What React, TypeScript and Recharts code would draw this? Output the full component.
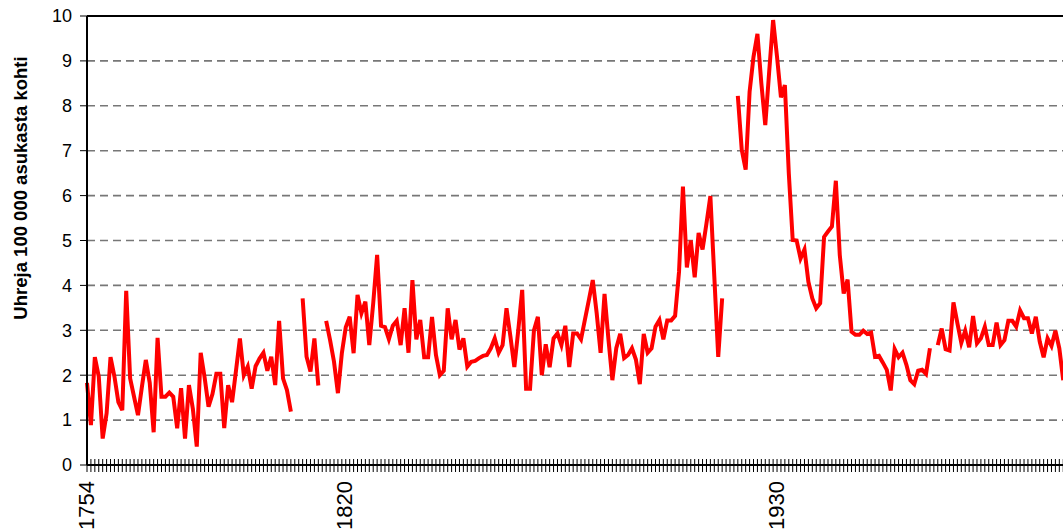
import React from "react";
import { LineChart, Line, XAxis, YAxis, CartesianGrid, ReferenceLine } from "recharts";

const FONT = '"Liberation Sans", Arial, sans-serif';

// Henkirikokset 100 000 asukasta kohti, vuosittain (luettu kuvasta)
const rate1754to1806 = [
  1.83, 0.89, 2.4, 1.97, 0.59, 1.15, 2.4, 1.97, 1.4, 1.22,
  3.88, 1.93, 1.52, 1.11, 1.74, 2.34, 1.83, 0.73, 2.83, 1.52,
  1.52, 1.61, 1.52, 0.82, 1.71, 0.59, 1.78, 1.25, 0.41, 2.5,
  1.95, 1.3, 1.58, 2.03, 2.03, 0.82, 1.78, 1.4, 2.1, 2.82,
  2.0, 2.19, 1.7, 2.2, 2.37, 2.5, 2.1, 2.41, 1.78, 3.21,
  1.93, 1.67, 1.19,
];
const rate1809to1813 = [3.71, 2.41, 2.08, 2.82, 1.77];
const rate1815to1916 = [
  3.21, 2.78, 2.3, 1.6, 2.49, 3.07, 3.3, 2.49, 3.79, 3.38,
  3.64, 2.67, 3.6, 4.68, 3.1, 3.07, 2.8, 3.1, 3.21, 2.67,
  3.49, 2.5, 4.12, 2.8, 3.23, 2.4, 2.4, 3.3, 2.45, 2.0,
  2.1, 3.49, 2.8, 3.23, 2.57, 2.82, 2.19, 2.3, 2.32, 2.38,
  2.43, 2.45, 2.6, 2.82, 2.5, 2.67, 3.49, 2.86, 2.18, 3.0,
  3.9, 1.7, 1.7, 3.0, 3.3, 2.0, 2.69, 2.18, 2.82, 2.93,
  2.67, 3.1, 2.18, 2.93, 2.93, 2.8, 3.24, 3.67, 4.12, 3.38,
  2.5, 3.81, 2.8, 1.89, 2.6, 2.92, 2.38, 2.45, 2.6, 2.35,
  1.8, 2.92, 2.5, 2.6, 3.08, 3.23, 2.8, 3.22, 3.22, 3.32,
  4.3, 6.2, 4.4, 5.0, 4.18, 5.17, 4.8, 5.38, 5.99, 4.2,
  2.41, 3.71,
];
const rate1920to1969 = [
  8.22, 7.02, 6.58, 8.31, 9.09, 9.6, 8.5, 7.57, 8.76, 9.91,
  9.09, 8.19, 8.46, 6.5, 5.01, 5.0, 4.6, 4.8, 4.08, 3.71,
  3.49, 3.6, 5.08, 5.2, 5.31, 6.33, 4.68, 3.82, 4.13, 2.97,
  2.9, 2.9, 2.99, 2.92, 2.95, 2.41, 2.43, 2.28, 2.12, 1.66,
  2.58, 2.4, 2.5, 2.23, 1.89, 1.8, 2.1, 2.12, 2.03, 2.6,
];
const rate1971to2003 = [
  2.67, 3.04, 2.58, 2.55, 3.62, 3.16, 2.72, 2.99, 2.62, 3.32,
  2.71, 2.82, 3.08, 2.67, 2.67, 3.17, 2.67, 2.78, 3.21, 3.21,
  3.08, 3.44, 3.27, 3.27, 2.93, 3.3, 2.75, 2.4, 2.82, 2.65,
  2.99, 2.6, 1.89,
];

const periods = [
  { start: 1754, values: rate1754to1806 },
  { start: 1809, values: rate1809to1813 },
  { start: 1815, values: rate1815to1916 },
  { start: 1920, values: rate1920to1969 },
  { start: 1971, values: rate1971to2003 },
];
// vuodet ilman tietoa -> katko viivassa
const missingYears = [1807, 1808, 1814, 1917, 1918, 1919, 1970];

const labelYears = [1754, 1820, 1930];
const yTicks = [0, 1, 2, 3, 4, 5, 6, 7, 8, 9, 10];
const firstYear = 1754;
const lastAxisYear = 2006;
const yearTicks = Array.from({ length: lastAxisYear - firstYear + 1 }, (_, i) => firstYear + i);

const data = [
  ...periods.flatMap((p) => p.values.map((v, i) => ({ year: p.start + i, rate: v as number | null }))),
  ...missingYears.map((y) => ({ year: y, rate: null as number | null })),
].sort((a, b) => a.year - b.year);

function YearTick({ x, y, payload }: any) {
  const show = labelYears.includes(payload.value);
  return (
    <g>
      <line x1={x} x2={x} y1={y - 6} y2={y + 7} stroke="#000" strokeWidth={1} />
      {show && (
        <text
          x={x - 1}
          y={y + 16}
          transform={`rotate(-90 ${x - 1} ${y + 16})`}
          textAnchor="end"
          dominantBaseline="central"
          fontSize={22}
          fontFamily={FONT}
          fill="#000"
        >
          {payload.value}
        </text>
      )}
    </g>
  );
}

const axisTitle = () => (
  <text
    x={27}
    y={188}
    transform="rotate(-90 27 188)"
    textAnchor="middle"
    fontSize={18.5}
    fontWeight="bold"
    fontFamily={FONT}
    fill="#000"
  >
    Uhreja 100 000 asukasta kohti
  </text>
);

export default function App() {
  return (
    <div
      style={{
        position: "fixed",
        left: 0,
        top: 0,
        width: 1063,
        height: 529,
        overflow: "hidden",
        background: "#fff",
      }}
    >
      <LineChart width={1080} height={529} data={data} margin={{ top: 16, right: 5, left: 0, bottom: 0 }}>
        <CartesianGrid vertical={false} stroke="#777" strokeDasharray="8 5" strokeWidth={1.6} />
        <XAxis
          type="number"
          dataKey="year"
          domain={[firstYear, lastAxisYear]}
          ticks={yearTicks}
          interval={0}
          height={64}
          axisLine={{ stroke: "#000", strokeWidth: 2 }}
          tickLine={false}
          tickSize={0}
          tickMargin={0}
          tick={(props: any) => <YearTick {...props} />}
        />
        <YAxis
          type="number"
          domain={[0, 10]}
          ticks={yTicks}
          interval={0}
          width={87}
          axisLine={{ stroke: "#000", strokeWidth: 2 }}
          tickLine={{ stroke: "#000", strokeWidth: 1 }}
          tickSize={7}
          tickMargin={8}
          tick={{ fontSize: 18, fill: "#000", fontFamily: FONT }}
          label={axisTitle}
        />
        <ReferenceLine y={10} stroke="#000" strokeWidth={2} />
        <Line
          type="linear"
          dataKey="rate"
          stroke="#ff0000"
          strokeWidth={4}
          dot={false}
          activeDot={false}
          connectNulls={false}
          isAnimationActive={false}
        />
      </LineChart>
    </div>
  );
}
